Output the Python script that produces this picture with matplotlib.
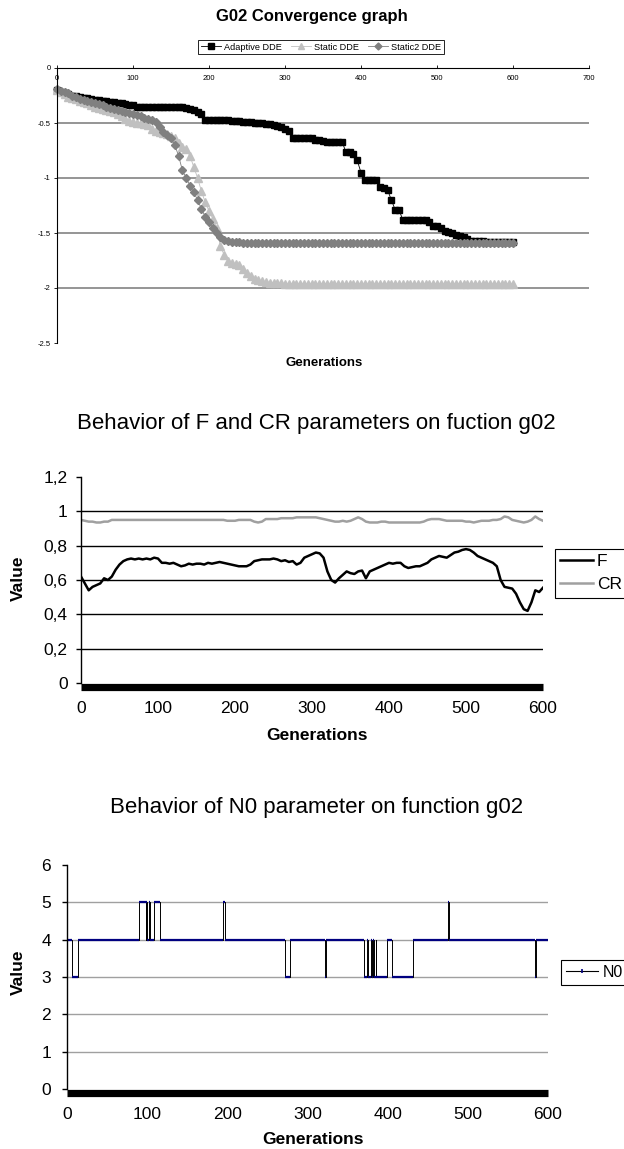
import numpy as np
import matplotlib
matplotlib.use('Agg')
import matplotlib.pyplot as plt
from matplotlib import transforms
from matplotlib.lines import Line2D

plt.rcParams['font.family'] = ['Liberation Sans', 'DejaVu Sans']

# ---------------- data: chart 1 (G02 convergence) ----------------
gens1 = list(range(0, 601, 5))
adaptive = [
    -0.20, -0.22, -0.23, -0.24, -0.25, -0.25, -0.26, -0.27, -0.27, -0.28,
    -0.29, -0.29, -0.30, -0.30, -0.31, -0.31, -0.32, -0.32, -0.33, -0.34,
    -0.34, -0.35, -0.35, -0.35, -0.35, -0.35, -0.35, -0.35, -0.35, -0.35,
    -0.35, -0.35, -0.35, -0.35, -0.36, -0.37, -0.38, -0.40, -0.42, -0.47,
    -0.47, -0.47, -0.47, -0.47, -0.47, -0.47, -0.48, -0.48, -0.48, -0.49,
    -0.49, -0.49, -0.50, -0.50, -0.50, -0.51, -0.51, -0.52, -0.53, -0.54,
    -0.55, -0.57, -0.64, -0.64, -0.64, -0.64, -0.64, -0.64, -0.65, -0.65,
    -0.66, -0.67, -0.67, -0.67, -0.67, -0.67, -0.76, -0.76, -0.78, -0.84,
    -0.95, -1.02, -1.02, -1.02, -1.02, -1.08, -1.09, -1.11, -1.20, -1.29,
    -1.29, -1.38, -1.38, -1.38, -1.38, -1.38, -1.38, -1.38, -1.40, -1.44,
    -1.44, -1.45, -1.48, -1.49, -1.50, -1.52, -1.53, -1.54, -1.55, -1.57,
    -1.57, -1.57, -1.57, -1.58, -1.58, -1.58, -1.58, -1.58, -1.58, -1.58,
    -1.58]
static = [
    -0.20, -0.22, -0.24, -0.26, -0.27, -0.28, -0.30, -0.31, -0.32, -0.34,
    -0.35, -0.36, -0.37, -0.38, -0.39, -0.40, -0.42, -0.44, -0.46, -0.48,
    -0.49, -0.50, -0.50, -0.51, -0.52, -0.55, -0.57, -0.58, -0.59, -0.60,
    -0.62, -0.64, -0.68, -0.72, -0.74, -0.80, -0.90, -1.00, -1.12, -1.22,
    -1.30, -1.37, -1.45, -1.62, -1.70, -1.75, -1.77, -1.78, -1.79, -1.83,
    -1.86, -1.89, -1.92, -1.93, -1.94, -1.945, -1.95, -1.95, -1.955, -1.955,
    -1.96, -1.96, -1.96, -1.96, -1.96, -1.96, -1.96, -1.96, -1.96, -1.96,
    -1.96, -1.96, -1.96, -1.96, -1.96, -1.96, -1.96, -1.96, -1.96, -1.96,
    -1.96, -1.96, -1.96, -1.96, -1.96, -1.96, -1.96, -1.96, -1.96, -1.96,
    -1.96, -1.96, -1.96, -1.96, -1.96, -1.96, -1.96, -1.96, -1.96, -1.96,
    -1.96, -1.96, -1.96, -1.96, -1.96, -1.96, -1.96, -1.96, -1.96, -1.96,
    -1.96, -1.96, -1.96, -1.96, -1.96, -1.96, -1.96, -1.96, -1.96, -1.96,
    -1.96]
static2 = [
    -0.19, -0.21, -0.22, -0.23, -0.25, -0.26, -0.28, -0.29, -0.30, -0.31,
    -0.32, -0.33, -0.34, -0.35, -0.36, -0.37, -0.38, -0.39, -0.40, -0.41,
    -0.42, -0.43, -0.44, -0.45, -0.46, -0.47, -0.49, -0.54, -0.58, -0.61,
    -0.64, -0.70, -0.80, -0.93, -1.00, -1.07, -1.13, -1.20, -1.28, -1.35,
    -1.40, -1.45, -1.50, -1.54, -1.56, -1.57, -1.58, -1.58, -1.585, -1.59,
    -1.59, -1.59, -1.59, -1.59, -1.59, -1.59, -1.59, -1.59, -1.59, -1.59,
    -1.59, -1.59, -1.59, -1.59, -1.59, -1.59, -1.59, -1.59, -1.59, -1.59,
    -1.59, -1.59, -1.59, -1.59, -1.59, -1.59, -1.59, -1.59, -1.59, -1.59,
    -1.59, -1.59, -1.59, -1.59, -1.59, -1.59, -1.59, -1.59, -1.59, -1.59,
    -1.59, -1.59, -1.59, -1.59, -1.59, -1.59, -1.59, -1.59, -1.59, -1.59,
    -1.59, -1.59, -1.59, -1.59, -1.59, -1.59, -1.59, -1.59, -1.59, -1.59,
    -1.59, -1.59, -1.59, -1.59, -1.59, -1.59, -1.59, -1.59, -1.59, -1.59,
    -1.59]
series1_names = ['Adaptive DDE', 'Static DDE', 'Static2 DDE']
xticks1 = [0, 100, 200, 300, 400, 500, 600, 700]
yticks1 = [0, -0.5, -1, -1.5, -2, -2.5]
ytick_labels1 = ['0', '-0.5', '-1', '-1.5', '-2', '-2.5']
grid1 = [-0.5, -1, -1.5, -2]

# ---------------- data: chart 2 (F and CR) ----------------
gens2 = list(range(0, 601, 5))
F_vals = [
    0.62, 0.58, 0.54, 0.56, 0.57, 0.58, 0.61, 0.60, 0.62, 0.66,
    0.69, 0.71, 0.72, 0.725, 0.72, 0.725, 0.72, 0.725, 0.72, 0.73,
    0.725, 0.70, 0.70, 0.695, 0.70, 0.69, 0.68, 0.685, 0.695, 0.69,
    0.695, 0.695, 0.69, 0.70, 0.695, 0.70, 0.705, 0.70, 0.695, 0.69,
    0.685, 0.68, 0.68, 0.68, 0.69, 0.71, 0.715, 0.72, 0.72, 0.72,
    0.725, 0.72, 0.71, 0.715, 0.705, 0.71, 0.69, 0.70, 0.73, 0.74,
    0.75, 0.76, 0.755, 0.73, 0.65, 0.60, 0.585, 0.61, 0.63, 0.65,
    0.64, 0.635, 0.65, 0.655, 0.61, 0.65, 0.66, 0.67, 0.68, 0.69,
    0.70, 0.695, 0.70, 0.70, 0.68, 0.67, 0.675, 0.68, 0.68, 0.69,
    0.70, 0.72, 0.73, 0.74, 0.735, 0.73, 0.745, 0.76, 0.765, 0.775,
    0.78, 0.775, 0.76, 0.74, 0.73, 0.72, 0.71, 0.70, 0.68, 0.60,
    0.56, 0.555, 0.55, 0.52, 0.47, 0.43, 0.42, 0.47, 0.54, 0.53,
    0.555]
CR_vals = [
    0.95, 0.945, 0.94, 0.94, 0.935, 0.935, 0.94, 0.94, 0.95, 0.95,
    0.95, 0.95, 0.95, 0.95, 0.95, 0.95, 0.95, 0.95, 0.95, 0.95,
    0.95, 0.95, 0.95, 0.95, 0.95, 0.95, 0.95, 0.95, 0.95, 0.95,
    0.95, 0.95, 0.95, 0.95, 0.95, 0.95, 0.95, 0.95, 0.945, 0.945,
    0.945, 0.95, 0.95, 0.95, 0.95, 0.94, 0.935, 0.94, 0.955, 0.955,
    0.955, 0.955, 0.96, 0.96, 0.96, 0.96, 0.965, 0.965, 0.965, 0.965,
    0.965, 0.965, 0.96, 0.955, 0.95, 0.945, 0.94, 0.94, 0.945, 0.94,
    0.945, 0.955, 0.965, 0.955, 0.94, 0.935, 0.935, 0.935, 0.94, 0.94,
    0.935, 0.935, 0.935, 0.935, 0.935, 0.935, 0.935, 0.935, 0.935, 0.94,
    0.95, 0.955, 0.955, 0.955, 0.95, 0.945, 0.945, 0.945, 0.945, 0.945,
    0.94, 0.94, 0.935, 0.94, 0.945, 0.945, 0.945, 0.95, 0.95, 0.955,
    0.97, 0.965, 0.95, 0.945, 0.94, 0.935, 0.94, 0.95, 0.97, 0.955,
    0.945]
base_gens = [0, 600]
base_vals = [0, 0]
xticks2 = [0, 100, 200, 300, 400, 500, 600]
yticks2 = [0, 0.2, 0.4, 0.6, 0.8, 1.0, 1.2]
ytick_labels2 = ['0', '0,2', '0,4', '0,6', '0,8', '1', '1,2']
grid2 = [0.2, 0.4, 0.6, 0.8, 1.0]

# ---------------- data: chart 3 (N0), change points ----------------
n0_gen = [0, 6, 14, 90, 98, 99, 100, 102, 104, 109, 116, 195, 197, 272, 278,
          322, 323, 371, 374, 376, 379, 381, 382, 383, 385, 386, 399, 405,
          432, 475, 476, 584, 585, 600]
n0_val = [4, 3, 4, 5, 4, 5, 4, 5, 4, 5, 4, 5, 4, 3, 4,
          3, 4, 3, 4, 3, 4, 3, 4, 3, 4, 3, 4, 3,
          4, 5, 4, 3, 4, 4]
xticks3 = [0, 100, 200, 300, 400, 500, 600]
yticks3 = [0, 1, 2, 3, 4, 5, 6]
grid3 = [1, 2, 3, 4, 5]

# ---------------- figure ----------------
W, H = 624, 1149
fig = plt.figure(figsize=(W / 100, H / 100), dpi=100)


def rect(x0, y_top, x1, y_bot):
    return [x0 / W, 1 - y_bot / H, (x1 - x0) / W, (y_bot - y_top) / H]


def fy(y):
    return 1 - y / H


TICK_FS = 12.5
LAB_FS = 12.5
TITLE_FS = 16

# ===== Chart 1 =====
ax1 = fig.add_axes(rect(57, 68, 589, 343))
ax1.set_xlim(0, 700)
ax1.set_ylim(-2.5, 0)
for g in grid1:
    ax1.axhline(g, color='#8c8c8c', lw=1.3, zorder=0)
h_a, = ax1.plot(gens1, adaptive, color='black', lw=0.6, marker='s', ms=4.6,
                mec='black', mfc='black', clip_on=False)
h_s, = ax1.plot(gens1, static, color='#c0c0c0', lw=0.6, marker='^', ms=6.2,
                mec='#c0c0c0', mfc='#c0c0c0', clip_on=False)
h_s2, = ax1.plot(gens1, static2, color='#808080', lw=0.6, marker='D', ms=4.4,
                 mec='#808080', mfc='#808080', clip_on=False)
for s in ['right', 'bottom']:
    ax1.spines[s].set_visible(False)
ax1.spines['top'].set_linewidth(0.8)
ax1.spines['left'].set_linewidth(0.8)
ax1.xaxis.set_ticks_position('top')
ax1.set_xticks(xticks1)
ax1.set_xticklabels([str(v) for v in xticks1])
ax1.tick_params(axis='x', direction='out', length=2.5, width=0.6,
                labelsize=5.5, pad=-12.5, colors='black')
ax1.set_yticks(yticks1)
ax1.set_yticklabels(ytick_labels1)
ax1.tick_params(axis='y', direction='out', length=2.5, width=0.6,
                labelsize=5.5, pad=2)

fig.text(312 / W, fy(16), 'G02 Convergence graph', ha='center', va='center',
         fontsize=12, fontweight='bold')
fig.text(324 / W, fy(363), 'Generations', ha='center', va='center',
         fontsize=9.5, fontweight='bold')
leg1 = fig.legend([h_a, h_s, h_s2], series1_names, loc='center',
                  bbox_to_anchor=(321 / W, fy(47)), ncol=3, fontsize=6.6,
                  frameon=True, fancybox=False, edgecolor='black',
                  framealpha=1, borderpad=0.3, handlelength=2.2,
                  columnspacing=1.0, handletextpad=0.3, markerscale=0.8)
leg1.get_frame().set_linewidth(0.6)

# ===== Chart 2 =====
ax2 = fig.add_axes(rect(81, 477, 543, 683))
ax2.set_xlim(0, 600)
ax2.set_ylim(0, 1.2)
for g in grid2:
    ax2.axhline(g, color='black', lw=1.0, zorder=0)
h_f, = ax2.plot(gens2, F_vals, color='black', lw=1.8)
h_cr, = ax2.plot(gens2, CR_vals, color='#a0a0a0', lw=1.8)
off2 = transforms.ScaledTranslation(0, -3.5 / 100, fig.dpi_scale_trans)
ax2.plot(base_gens, base_vals, color='black', lw=5.2, solid_capstyle='butt',
         clip_on=False, transform=ax2.transData + off2)
for s in ['right', 'top', 'bottom']:
    ax2.spines[s].set_visible(False)
ax2.spines['left'].set_linewidth(1.0)
ax2.set_xticks(xticks2)
ax2.set_xticklabels([str(v) for v in xticks2])
ax2.tick_params(axis='x', length=0, labelsize=TICK_FS, pad=13)
ax2.set_yticks(yticks2)
ax2.set_yticklabels(ytick_labels2)
ax2.tick_params(axis='y', direction='out', length=3.6, width=1.0,
                labelsize=TICK_FS, pad=6)

fig.text(316 / W, fy(423), 'Behavior of F and CR parameters on fuction g02',
         ha='center', va='center', fontsize=TITLE_FS)
fig.text(317 / W, fy(736), 'Generations', ha='center', va='center',
         fontsize=LAB_FS, fontweight='bold')
fig.text(18 / W, fy(578), 'Value', ha='center', va='center', rotation=90,
         fontsize=LAB_FS, fontweight='bold')
leg2 = fig.legend([h_f, h_cr], ['F', 'CR'], loc='upper left',
                  bbox_to_anchor=(555 / W, fy(549)), fontsize=TICK_FS,
                  frameon=True, fancybox=False, edgecolor='black',
                  framealpha=1, borderpad=0.3, handlelength=1.9,
                  handletextpad=0.2, labelspacing=0.45, borderaxespad=0)
leg2.get_frame().set_linewidth(0.8)

# ===== Chart 3 =====
ax3 = fig.add_axes(rect(67, 865, 548, 1089))
ax3.set_xlim(0, 600)
ax3.set_ylim(0, 6)
for g in grid3:
    ax3.axhline(g, color='#a0a0a0', lw=1.0, zorder=0)
ax3.plot(n0_gen, n0_val, drawstyle='steps-post', color='black', lw=0.7)
ax3.hlines(n0_val[:-1], n0_gen[:-1], n0_gen[1:], color='#000080', lw=1.6)
off3 = transforms.ScaledTranslation(0, -3.5 / 100, fig.dpi_scale_trans)
ax3.plot(base_gens, base_vals, color='black', lw=5.2, solid_capstyle='butt',
         clip_on=False, transform=ax3.transData + off3)
for s in ['right', 'top', 'bottom']:
    ax3.spines[s].set_visible(False)
ax3.spines['left'].set_linewidth(1.0)
ax3.set_xticks(xticks3)
ax3.set_xticklabels([str(v) for v in xticks3])
ax3.tick_params(axis='x', length=0, labelsize=TICK_FS, pad=13)
ax3.set_yticks(yticks3)
ax3.set_yticklabels([str(v) for v in yticks3])
ax3.tick_params(axis='y', direction='out', length=3.6, width=1.0,
                labelsize=TICK_FS, pad=8)

fig.text(317 / W, fy(808), 'Behavior of N0 parameter on function g02',
         ha='center', va='center', fontsize=TITLE_FS)
fig.text(313 / W, fy(1139), 'Generations', ha='center', va='center',
         fontsize=LAB_FS, fontweight='bold')
fig.text(18 / W, fy(972), 'Value', ha='center', va='center', rotation=90,
         fontsize=LAB_FS, fontweight='bold')
h_n0 = Line2D([], [], color='black', lw=0.8, marker='|', ms=3,
              mec='#000080', mew=1.2)
leg3 = fig.legend([h_n0], ['N0'], loc='upper left',
                  bbox_to_anchor=(561 / W, fy(960)), fontsize=11.5,
                  frameon=True, fancybox=False, edgecolor='black',
                  framealpha=1, borderpad=0.3, handlelength=2.0,
                  handletextpad=0.3, borderaxespad=0)
leg3.get_frame().set_linewidth(0.8)

fig.savefig('out.png', dpi=100)
